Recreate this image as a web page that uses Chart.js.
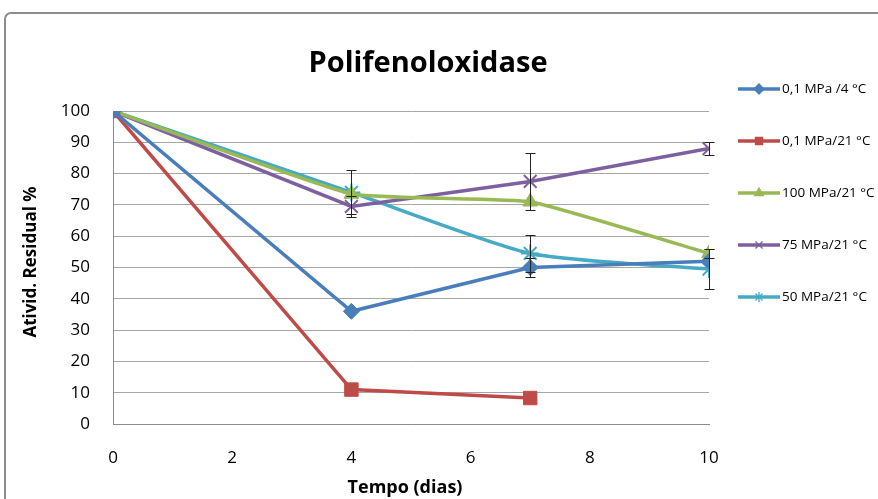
<!DOCTYPE html>
<html>
<head>
<meta charset="utf-8">
<script src="https://cdn.jsdelivr.net/npm/chart.js@4.4.1/dist/chart.umd.min.js"></script>
<style>
html,body{margin:0;padding:0;background:#fff;}
#wrap{width:878px;height:499px;position:relative;}
</style>
</head>
<body>
<div id="wrap"><canvas id="c" width="878" height="499"></canvas></div>
<script>
// ---- Data ----
const chartTitle = "Polifenoloxidase";
const xTitle = "Tempo (dias)";
const yTitle = "Ativid. Residual %";
const seriesLabels = ["0,1 MPa /4 °C", "0,1 MPa/21 °C", "100 MPa/21 °C", "75 MPa/21 °C", "50 MPa/21 °C"];

const days_blue = [0, 4, 7, 10];
const vals_blue = [100, 36, 50, 52];
const err_blue  = [0, 0, 3, 0];

const days_red = [0, 4, 7];
const vals_red = [100, 11, 8.3];
const err_red  = [0, 0, 0];

const days_green = [0, 4, 7, 10];
const vals_green = [100, 73.5, 71, 54.5];
const err_green  = [0, 0, 0, 1.5];

const days_purple = [0, 4, 7, 10];
const vals_purple = [100, 69.5, 77.5, 88];
const err_purple  = [0, 3.5, 9, 2.2];

const days_cyan = [0, 4, 7, 10];
const vals_cyan = [100, 74, 54.5, 49.5];
const err_cyan  = [0, 7, 6, 6.5];

const xTicks = [0, 2, 4, 6, 8, 10];
const yTicks = [0, 10, 20, 30, 40, 50, 60, 70, 80, 90, 100];

// ---- Build ----
const colors = ["#4A7EBB", "#BE4B48", "#98B954", "#7D60A0", "#46AAC5"];
const styles = ["rectRot", "rect", "triangle", "crossRot", "star"];
const radii = [8, 9.5, 8.5, 9, 9];
const tensions = [0, 0, 0.12, 0, 0.2];
const allDays = [days_blue, days_red, days_green, days_purple, days_cyan];
const allVals = [vals_blue, vals_red, vals_green, vals_purple, vals_cyan];
const allErrs = [err_blue, err_red, err_green, err_purple, err_cyan];

const datasets = seriesLabels.map((lab, i) => ({
  label: lab,
  data: allDays[i].map((d, j) => ({x: d, y: allVals[i][j]})),
  errors: allErrs[i],
  showLine: true,
  borderColor: colors[i],
  backgroundColor: colors[i],
  borderWidth: 3.5,
  pointStyle: styles[i],
  pointRadius: radii[i],
  pointBorderColor: colors[i],
  pointBackgroundColor: colors[i],
  pointBorderWidth: (styles[i] === "crossRot" || styles[i] === "star") ? 2 : 1,
  tension: tensions[i]
}));

const deco = {
  id: "deco",
  beforeDraw(chart) {
    const ctx = chart.ctx;
    ctx.save();
    ctx.fillStyle = "#fff";
    ctx.fillRect(0, 0, chart.width, chart.height);
    ctx.strokeStyle = "#8C8C8C";
    ctx.lineWidth = 2;
    ctx.beginPath();
    if (ctx.roundRect) ctx.roundRect(5, 13, 900, 520, 6); else ctx.rect(5, 13, 900, 520);
    ctx.stroke();
    ctx.restore();
  },
  afterDatasetsDraw(chart) {
    const ctx = chart.ctx;
    const xs = chart.scales.x, ys = chart.scales.y;
    ctx.save();
    ctx.strokeStyle = "#222";
    ctx.lineWidth = 1;
    chart.data.datasets.forEach(ds => {
      ds.data.forEach((p, j) => {
        const e = ds.errors[j];
        if (!e) return;
        const px = Math.round(xs.getPixelForValue(p.x)) + 0.5;
        const yt = Math.round(ys.getPixelForValue(p.y + e)) + 0.5;
        const yb = Math.round(ys.getPixelForValue(p.y - e)) + 0.5;
        ctx.beginPath();
        ctx.moveTo(px, yt); ctx.lineTo(px, yb);
        ctx.moveTo(px - 5, yt); ctx.lineTo(px + 5, yt);
        ctx.moveTo(px - 5, yb); ctx.lineTo(px + 5, yb);
        ctx.stroke();
      });
    });
    ctx.restore();
  },
  afterDraw(chart) {
    const ctx = chart.ctx;
    ctx.save();
    ctx.fillStyle = "#000";
    ctx.textAlign = "center";
    ctx.textBaseline = "middle";
    ctx.font = "bold 29px 'Open Sans'";
    ctx.fillText(chartTitle, 428, 64);
    ctx.font = "bold 18px 'Open Sans'";
    ctx.fillText(xTitle, 405, 488);
    ctx.font = "bold 17px 'Open Sans'";
    ctx.translate(31, 262);
    ctx.rotate(-Math.PI / 2);
    ctx.fillText(yTitle, 0, 0);
    ctx.restore();

    // legend
    const ys = [89, 141, 193, 245, 297];
    ctx.save();
    chart.data.datasets.forEach((ds, i) => {
      const y = ys[i];
      ctx.strokeStyle = ds.borderColor;
      ctx.lineWidth = 3.5;
      ctx.beginPath();
      ctx.moveTo(738, y); ctx.lineTo(780, y);
      ctx.stroke();
      ctx.fillStyle = ds.borderColor;
      ctx.strokeStyle = ds.borderColor;
      ctx.lineWidth = 1.3;
      Chart.helpers.drawPoint(ctx, {
        pointStyle: ds.pointStyle, radius: 5, borderWidth: 1.3, rotation: 0
      }, 759, y);
      ctx.fillStyle = "#000";
      ctx.font = "13.5px 'Open Sans'";
      ctx.textAlign = "left";
      ctx.textBaseline = "middle";
      ctx.fillText(ds.label, 782, y);
    });
    ctx.restore();
  }
};

new Chart(document.getElementById("c"), {
  type: "scatter",
  data: { datasets },
  options: {
    responsive: false,
    animation: false,
    devicePixelRatio: 1,
    layout: { padding: { left: 0, right: 169, top: 111, bottom: 0 } },
    plugins: { legend: { display: false }, tooltip: { enabled: false } },
    scales: {
      x: {
        type: "linear", min: 0, max: 10,
        afterFit(s) { s.height = 75; },
        afterBuildTicks(s) { s.ticks = xTicks.map(v => ({value: v})); },
        grid: { display: false, drawTicks: false },
        border: { display: true, color: "#8C8C8C", width: 1 },
        ticks: { color: "#000", font: { family: "'Open Sans'", size: 17 }, padding: 24 }
      },
      y: {
        type: "linear", min: 0, max: 100,
        afterFit(s) { s.width = 113; },
        afterBuildTicks(s) { s.ticks = yTicks.map(v => ({value: v})); },
        grid: { color: "#A6A6A6", lineWidth: 1, drawTicks: false },
        border: { display: true, color: "#8C8C8C", width: 1 },
        ticks: { color: "#000", font: { family: "'Open Sans'", size: 17 }, padding: 23 }
      }
    }
  },
  plugins: [deco]
});
</script>
</body>
</html>
